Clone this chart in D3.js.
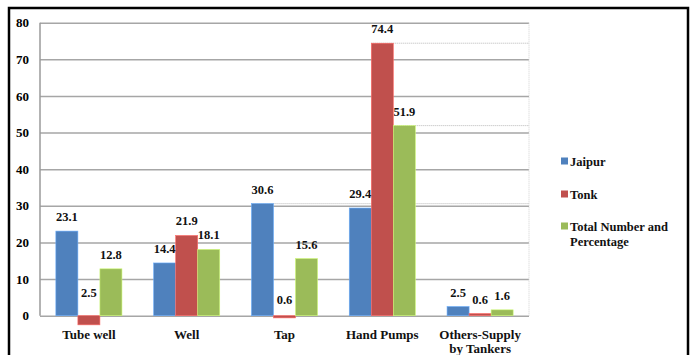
<!DOCTYPE html>
<html>
<head>
<meta charset="utf-8">
<script src="https://cdn.jsdelivr.net/npm/d3@7/dist/d3.min.js"></script>
<style>
  html, body { margin: 0; padding: 0; background: #fff; }
  svg { display: block; }
  svg text { font-family: "Liberation Serif" !important; font-weight: bold; }
</style>
</head>
<body>
<svg id="chart" width="694" height="355" font-family="Liberation Serif" font-weight="bold"></svg>
<script>
// Sources of drinking water, per cent of households
const categories = ["Tube well", "Well", "Tap", "Hand Pumps", "Others-Supply by Tankers"];
const seriesNames = ["Jaipur", "Tonk", "Total Number and Percentage"];
const jaipur = [23.1, 14.4, 30.6, 29.4, 2.5];
const tonk = [-2.5, 21.9, -0.6, 74.4, 0.6];
const total = [12.8, 18.1, 15.6, 51.9, 1.6];
const yTicks = [0, 10, 20, 30, 40, 50, 60, 70, 80];

const seriesValues = [jaipur, tonk, total];
const colors = ["#4F81BD", "#C0504D", "#9BBB59"];

const plot = { left: 40, right: 529, top: 22.7, bottom: 315.7 };

const svg = d3.select("#chart");

// outer frame of the figure
svg.append("rect")
  .attr("x", 9).attr("y", 8)
  .attr("width", 679).attr("height", 360)
  .attr("fill", "none").attr("stroke", "#000").attr("stroke-width", 2.5);

const x = d3.scaleBand().domain(categories).range([plot.left, plot.right]).padding(0);
const xs = d3.scaleBand().domain(seriesNames).range([0, x.bandwidth()])
  .paddingInner(0).paddingOuter(0.72);
const y = d3.scaleLinear().domain([0, 80]).range([plot.bottom, plot.top]);

// horizontal gridlines
const grid = svg.append("g").attr("transform", `translate(${plot.left},0)`)
  .call(d3.axisLeft(y).tickValues(yTicks).tickSize(-(plot.right - plot.left)).tickFormat(""));
grid.select(".domain").remove();
grid.selectAll("line").attr("stroke", "#a6a6a6").attr("stroke-width", 1.5);

// plot-area edges
svg.append("line")
  .attr("x1", plot.left).attr("x2", plot.left)
  .attr("y1", y(80)).attr("y2", y(0))
  .attr("stroke", "#9a9a9a").attr("stroke-width", 1.5);
svg.append("line")
  .attr("x1", plot.right).attr("x2", plot.right)
  .attr("y1", y(80)).attr("y2", y(0))
  .attr("stroke", "#d0d0d0").attr("stroke-width", 1)
  .attr("stroke-dasharray", "1,1");

// y tick labels
const yAxis = svg.append("g").attr("transform", `translate(${plot.left},0)`)
  .call(d3.axisLeft(y).tickValues(yTicks).tickSize(0).tickPadding(11).tickFormat(d3.format("d")));
yAxis.attr("font-family", "Liberation Serif").attr("font-size", 13);
yAxis.select(".domain").remove();

// flat records for bars
const records = [];
categories.forEach((c, i) => {
  seriesNames.forEach((s, j) => {
    records.push({ cat: c, series: s, idx: j, value: seriesValues[j][i] });
  });
});

// faint dotted guide at each series' highest bar, running to the plot edge
seriesNames.forEach((s, j) => {
  const vals = seriesValues[j];
  const m = d3.max(vals);
  const c = categories[vals.indexOf(m)];
  svg.append("line")
    .attr("x1", x(c) + xs(s)).attr("x2", plot.right)
    .attr("y1", y(m)).attr("y2", y(m))
    .attr("stroke", "#b8b8b8").attr("stroke-width", 1)
    .attr("stroke-dasharray", "1,1");
});

// bars
svg.append("g").selectAll("rect")
  .data(records)
  .join("rect")
  .attr("x", d => x(d.cat) + xs(d.series))
  .attr("y", d => y(Math.max(0, d.value)))
  .attr("width", xs.bandwidth())
  .attr("height", d => Math.abs(y(d.value) - y(0)))
  .attr("fill", d => colors[d.idx])
  .attr("stroke", d => d3.color(colors[d.idx]).brighter(0.8))
  .attr("stroke-width", 0.6);

// value labels
const fmt = d3.format(".1f");
svg.append("g").selectAll("text")
  .data(records)
  .join("text")
  .attr("x", d => x(d.cat) + xs(d.series) + xs.bandwidth() / 2)
  .attr("y", d => y(Math.abs(d.value)) - 10)
  .attr("text-anchor", "middle")
  .attr("font-size", 12.5)
  .attr("fill", "#111")
  .text(d => fmt(Math.abs(d.value)));

// wraps a text element's words into lines no wider than maxW
function wrap(textSel, words, maxW, lineH) {
  const lines = [];
  let cur = [];
  const probe = textSel.append("tspan");
  words.forEach(w => {
    probe.text(cur.concat(w).join(" "));
    if (probe.node().getComputedTextLength() > maxW && cur.length) {
      lines.push(cur.join(" "));
      cur = [w];
    } else {
      cur.push(w);
    }
  });
  if (cur.length) lines.push(cur.join(" "));
  probe.remove();
  lines.forEach((l, k) => {
    textSel.append("tspan")
      .attr("x", textSel.attr("x"))
      .attr("dy", k === 0 ? 0 : lineH)
      .text(l);
  });
}

// category labels
categories.forEach(c => {
  const t = svg.append("text")
    .attr("x", x(c) + x.bandwidth() / 2)
    .attr("y", y(0) + 23)
    .attr("text-anchor", "middle")
    .attr("font-size", 13)
    .attr("fill", "#111");
  wrap(t, c.split(" "), 95, 14);
});

// legend
const legendX = 561, legendBaselines = [166, 199, 231];
seriesNames.forEach((s, j) => {
  const by = legendBaselines[j];
  svg.append("rect")
    .attr("x", legendX).attr("y", by - 8.5)
    .attr("width", 7).attr("height", 7)
    .attr("fill", colors[j]);
  const t = svg.append("text")
    .attr("x", legendX + 9).attr("y", by)
    .attr("font-size", 12.5)
    .attr("fill", "#111");
  wrap(t, s.split(" "), 118, 14.5);
});
</script>
</body>
</html>
